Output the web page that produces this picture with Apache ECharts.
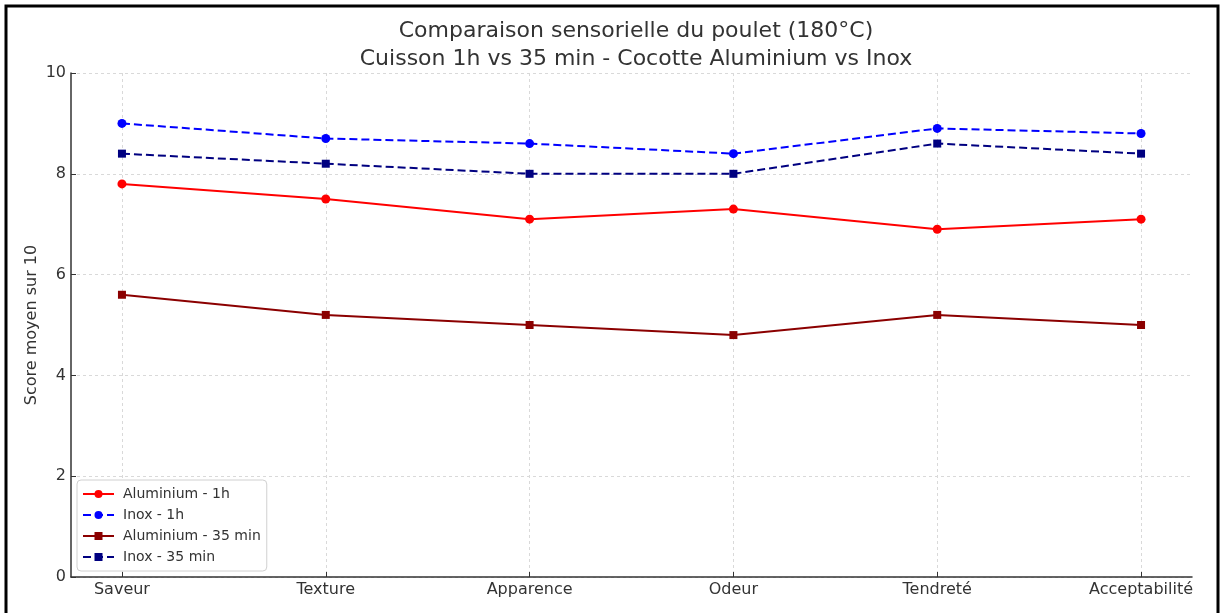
<!DOCTYPE html>
<html>
<head>
<meta charset="utf-8">
<script src="https://cdn.jsdelivr.net/npm/echarts@6/dist/echarts.min.js"></script>
<style>
html,body{margin:0;padding:0;background:#fff;}
#chart{width:1223px;height:613px;}
</style>
</head>
<body>
<div id="chart"></div>
<script>
const categories = ['Saveur', 'Texture', 'Apparence', 'Odeur', 'Tendreté', 'Acceptabilité'];
const aluminium1h = [7.8, 7.5, 7.1, 7.3, 6.9, 7.1];
const inox1h = [9.0, 8.7, 8.6, 8.4, 8.9, 8.8];
const aluminium35 = [5.6, 5.2, 5.0, 4.8, 5.2, 5.0];
const inox35 = [8.4, 8.2, 8.0, 8.0, 8.6, 8.4];
const yTicks = [0, 2, 4, 6, 8, 10];

const idx = categories.map((c, i) => i);
const pairs = arr => arr.map((v, i) => [i, v]);
const FONT = 'DejaVu Sans';
const TXT = '#333333';

const chart = echarts.init(document.getElementById('chart'), null, {renderer: 'canvas'});

function lineSeries(name, data, color, dashed, symbol) {
  return {
    name: name,
    type: 'line',
    data: pairs(data),
    symbol: symbol,
    symbolSize: symbol === 'rect' ? 8 : 9,
    showSymbol: true,
    itemStyle: {color: color},
    lineStyle: {color: color, width: 2, type: dashed ? [8, 4] : 'solid'},
    emphasis: {disabled: true},
    animation: false
  };
}

chart.setOption({
  backgroundColor: '#ffffff',
  animation: false,
  title: {
    text: 'Comparaison sensorielle du poulet (180°C)\nCuisson 1h vs 35 min - Cocotte Aluminium vs Inox',
    left: 631,
    top: 12,
    textAlign: 'center',
    textStyle: {fontFamily: FONT, fontSize: 22, fontWeight: 'normal', color: TXT, lineHeight: 28}
  },
  graphic: [{
    type: 'rect',
    shape: {x: 6, y: 6, width: 1212, height: 620},
    style: {fill: 'none', stroke: '#000', lineWidth: 3},
    silent: true,
    z: 100
  }],
  legend: {
    orient: 'vertical',
    left: 77,
    top: 480,
    itemWidth: 31,
    itemHeight: 10,
    itemGap: 5,
    itemTextGap: 13,
    padding: [6, 6, 6, 5],
    backgroundColor: '#ffffff',
    borderColor: '#d0d0d0',
    borderWidth: 1,
    borderRadius: 4,
    textStyle: {fontFamily: FONT, fontSize: 14, color: TXT, lineHeight: 16, padding: [0, 0, 0, 4]},
    data: ['Aluminium - 1h', 'Inox - 1h', 'Aluminium - 35 min', 'Inox - 35 min']
  },
  grid: {left: 71, right: 31, top: 73, bottom: 36, containLabel: false},
  xAxis: {
    type: 'value',
    min: -0.25,
    max: 5.25,
    axisLine: {show: true, onZero: false, lineStyle: {color: TXT, width: 1.5}},
    axisTick: {show: true, inside: true, length: 5, customValues: idx, lineStyle: {color: TXT, width: 1}},
    axisLabel: {
      customValues: idx,
      formatter: v => categories[Math.round(v)] || '',
      fontFamily: FONT, fontSize: 16, color: TXT, margin: 5
    },
    splitLine: {show: true, lineStyle: {color: '#d9d9d9', width: 1, type: [3, 3]}}
  },
  yAxis: {
    type: 'value',
    min: 0,
    max: 10,
    interval: 2,
    name: 'Score moyen sur 10',
    nameLocation: 'middle',
    nameGap: 31,
    nameMoveOverlap: false,
    nameTextStyle: {fontFamily: FONT, fontSize: 16, color: TXT},
    axisLine: {show: true, onZero: false, lineStyle: {color: TXT, width: 1.5}},
    axisTick: {show: true, inside: true, length: 5, lineStyle: {color: TXT, width: 1}},
    axisLabel: {
      customValues: yTicks,
      fontFamily: FONT, fontSize: 16, color: TXT, margin: 5
    },
    splitLine: {show: true, lineStyle: {color: '#d9d9d9', width: 1, type: [3, 3]}}
  },
  series: [
    lineSeries('Aluminium - 1h', aluminium1h, '#ff0000', false, 'circle'),
    lineSeries('Inox - 1h', inox1h, '#0000ff', true, 'circle'),
    lineSeries('Aluminium - 35 min', aluminium35, '#8b0000', false, 'rect'),
    lineSeries('Inox - 35 min', inox35, '#000080', true, 'rect')
  ]
});
</script>
</body>
</html>
